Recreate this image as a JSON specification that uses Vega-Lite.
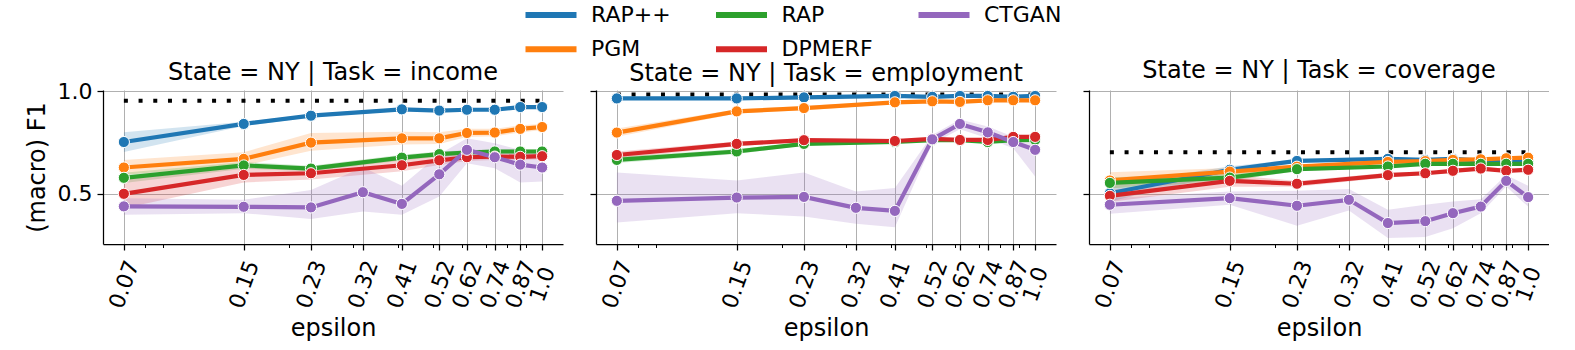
{
  "$schema": "https://vega.github.io/schema/vega-lite/v6.json",
  "padding": {"left": 25, "top": 2, "right": 0, "bottom": 0},
  "background": "white",
  "config": {
    "font": "DejaVu Sans",
    "view": {"stroke": null},
    "axis": {"domainColor": "black", "domainWidth": 1.25, "tickColor": "black", "tickWidth": 1.25, "tickSize": 6, "labelFontSize": 22, "titleFontSize": 24, "labelColor": "black", "titleColor": "black", "titleFontWeight": "normal", "gridColor": "#b0b0b0", "gridWidth": 1, "labelFont": "DejaVu Sans", "titleFont": "DejaVu Sans"},
    "legend": {"orient": "none", "legendX": 435, "legendY": -88, "columns": 3, "gridAlign": "each", "symbolType": "M-2.55,0H2.55", "symbolStrokeWidth": 6, "symbolSize": 400, "symbolOpacity": 1, "labelFontSize": 22, "labelFont": "DejaVu Sans", "labelColor": "black", "labelOffset": 27, "columnPadding": 32.5, "rowPadding": 9.2},
    "title": {"fontSize": 24, "fontWeight": "normal", "color": "black", "font": "DejaVu Sans", "baseline": "alphabetic", "frame": "group"}
  },
  "datasets": {
    "d": [
      {"t":"income","m":"RAP++","e":0.07,"v":0.752,"lo":0.704,"hi":0.799},
      {"t":"income","m":"RAP++","e":0.15,"v":0.840,"lo":0.830,"hi":0.850},
      {"t":"income","m":"RAP++","e":0.23,"v":0.880,"lo":0.872,"hi":0.888},
      {"t":"income","m":"RAP++","e":0.41,"v":0.911,"lo":0.903,"hi":0.919},
      {"t":"income","m":"RAP++","e":0.52,"v":0.905,"lo":0.898,"hi":0.912},
      {"t":"income","m":"RAP++","e":0.62,"v":0.909,"lo":0.902,"hi":0.916},
      {"t":"income","m":"RAP++","e":0.74,"v":0.909,"lo":0.903,"hi":0.915},
      {"t":"income","m":"RAP++","e":0.87,"v":0.922,"lo":0.915,"hi":0.929},
      {"t":"income","m":"RAP++","e":1.0,"v":0.922,"lo":0.915,"hi":0.929},
      {"t":"income","m":"PGM","e":0.07,"v":0.628,"lo":0.593,"hi":0.665},
      {"t":"income","m":"PGM","e":0.15,"v":0.670,"lo":0.638,"hi":0.702},
      {"t":"income","m":"PGM","e":0.23,"v":0.749,"lo":0.710,"hi":0.796},
      {"t":"income","m":"PGM","e":0.41,"v":0.770,"lo":0.740,"hi":0.802},
      {"t":"income","m":"PGM","e":0.52,"v":0.770,"lo":0.742,"hi":0.800},
      {"t":"income","m":"PGM","e":0.62,"v":0.796,"lo":0.776,"hi":0.816},
      {"t":"income","m":"PGM","e":0.74,"v":0.798,"lo":0.780,"hi":0.816},
      {"t":"income","m":"PGM","e":0.87,"v":0.816,"lo":0.798,"hi":0.834},
      {"t":"income","m":"PGM","e":1.0,"v":0.825,"lo":0.810,"hi":0.840},
      {"t":"income","m":"RAP","e":0.07,"v":0.578,"lo":0.553,"hi":0.603},
      {"t":"income","m":"RAP","e":0.15,"v":0.638,"lo":0.622,"hi":0.655},
      {"t":"income","m":"RAP","e":0.23,"v":0.623,"lo":0.610,"hi":0.636},
      {"t":"income","m":"RAP","e":0.41,"v":0.676,"lo":0.662,"hi":0.690},
      {"t":"income","m":"RAP","e":0.52,"v":0.693,"lo":0.680,"hi":0.706},
      {"t":"income","m":"RAP","e":0.62,"v":0.701,"lo":0.690,"hi":0.712},
      {"t":"income","m":"RAP","e":0.74,"v":0.706,"lo":0.695,"hi":0.717},
      {"t":"income","m":"RAP","e":0.87,"v":0.706,"lo":0.695,"hi":0.717},
      {"t":"income","m":"RAP","e":1.0,"v":0.706,"lo":0.695,"hi":0.717},
      {"t":"income","m":"DPMERF","e":0.07,"v":0.500,"lo":0.430,"hi":0.570},
      {"t":"income","m":"DPMERF","e":0.15,"v":0.592,"lo":0.555,"hi":0.629},
      {"t":"income","m":"DPMERF","e":0.23,"v":0.600,"lo":0.570,"hi":0.630},
      {"t":"income","m":"DPMERF","e":0.41,"v":0.639,"lo":0.610,"hi":0.668},
      {"t":"income","m":"DPMERF","e":0.52,"v":0.663,"lo":0.640,"hi":0.686},
      {"t":"income","m":"DPMERF","e":0.62,"v":0.678,"lo":0.660,"hi":0.696},
      {"t":"income","m":"DPMERF","e":0.74,"v":0.681,"lo":0.665,"hi":0.697},
      {"t":"income","m":"DPMERF","e":0.87,"v":0.680,"lo":0.664,"hi":0.696},
      {"t":"income","m":"DPMERF","e":1.0,"v":0.683,"lo":0.668,"hi":0.698},
      {"t":"income","m":"CTGAN","e":0.07,"v":0.439,"lo":0.398,"hi":0.479},
      {"t":"income","m":"CTGAN","e":0.15,"v":0.437,"lo":0.406,"hi":0.471},
      {"t":"income","m":"CTGAN","e":0.23,"v":0.434,"lo":0.377,"hi":0.519},
      {"t":"income","m":"CTGAN","e":0.32,"v":0.508,"lo":0.414,"hi":0.629},
      {"t":"income","m":"CTGAN","e":0.41,"v":0.451,"lo":0.398,"hi":0.539},
      {"t":"income","m":"CTGAN","e":0.52,"v":0.595,"lo":0.487,"hi":0.693},
      {"t":"income","m":"CTGAN","e":0.62,"v":0.714,"lo":0.649,"hi":0.770},
      {"t":"income","m":"CTGAN","e":0.74,"v":0.678,"lo":0.625,"hi":0.746},
      {"t":"income","m":"CTGAN","e":0.87,"v":0.642,"lo":0.555,"hi":0.714},
      {"t":"income","m":"CTGAN","e":1.0,"v":0.628,"lo":0.560,"hi":0.706},

      {"t":"employment","m":"RAP++","e":0.07,"v":0.964,"lo":0.959,"hi":0.969},
      {"t":"employment","m":"RAP++","e":0.15,"v":0.964,"lo":0.959,"hi":0.969},
      {"t":"employment","m":"RAP++","e":0.23,"v":0.969,"lo":0.964,"hi":0.974},
      {"t":"employment","m":"RAP++","e":0.41,"v":0.976,"lo":0.971,"hi":0.981},
      {"t":"employment","m":"RAP++","e":0.52,"v":0.972,"lo":0.967,"hi":0.977},
      {"t":"employment","m":"RAP++","e":0.62,"v":0.976,"lo":0.971,"hi":0.981},
      {"t":"employment","m":"RAP++","e":0.74,"v":0.976,"lo":0.971,"hi":0.981},
      {"t":"employment","m":"RAP++","e":0.87,"v":0.972,"lo":0.967,"hi":0.977},
      {"t":"employment","m":"RAP++","e":1.0,"v":0.976,"lo":0.971,"hi":0.981},
      {"t":"employment","m":"PGM","e":0.07,"v":0.798,"lo":0.778,"hi":0.818},
      {"t":"employment","m":"PGM","e":0.15,"v":0.901,"lo":0.891,"hi":0.911},
      {"t":"employment","m":"PGM","e":0.23,"v":0.917,"lo":0.907,"hi":0.927},
      {"t":"employment","m":"PGM","e":0.41,"v":0.945,"lo":0.937,"hi":0.953},
      {"t":"employment","m":"PGM","e":0.52,"v":0.950,"lo":0.943,"hi":0.957},
      {"t":"employment","m":"PGM","e":0.62,"v":0.947,"lo":0.940,"hi":0.954},
      {"t":"employment","m":"PGM","e":0.74,"v":0.955,"lo":0.949,"hi":0.961},
      {"t":"employment","m":"PGM","e":0.87,"v":0.955,"lo":0.949,"hi":0.961},
      {"t":"employment","m":"PGM","e":1.0,"v":0.955,"lo":0.949,"hi":0.961},
      {"t":"employment","m":"RAP","e":0.07,"v":0.665,"lo":0.650,"hi":0.680},
      {"t":"employment","m":"RAP","e":0.15,"v":0.706,"lo":0.694,"hi":0.718},
      {"t":"employment","m":"RAP","e":0.23,"v":0.743,"lo":0.735,"hi":0.751},
      {"t":"employment","m":"RAP","e":0.41,"v":0.752,"lo":0.746,"hi":0.758},
      {"t":"employment","m":"RAP","e":0.52,"v":0.761,"lo":0.755,"hi":0.767},
      {"t":"employment","m":"RAP","e":0.62,"v":0.761,"lo":0.755,"hi":0.767},
      {"t":"employment","m":"RAP","e":0.74,"v":0.752,"lo":0.746,"hi":0.758},
      {"t":"employment","m":"RAP","e":0.87,"v":0.761,"lo":0.755,"hi":0.767},
      {"t":"employment","m":"RAP","e":1.0,"v":0.762,"lo":0.756,"hi":0.768},
      {"t":"employment","m":"DPMERF","e":0.07,"v":0.689,"lo":0.672,"hi":0.706},
      {"t":"employment","m":"DPMERF","e":0.15,"v":0.743,"lo":0.731,"hi":0.755},
      {"t":"employment","m":"DPMERF","e":0.23,"v":0.761,"lo":0.752,"hi":0.770},
      {"t":"employment","m":"DPMERF","e":0.41,"v":0.757,"lo":0.750,"hi":0.764},
      {"t":"employment","m":"DPMERF","e":0.52,"v":0.767,"lo":0.760,"hi":0.774},
      {"t":"employment","m":"DPMERF","e":0.62,"v":0.762,"lo":0.755,"hi":0.769},
      {"t":"employment","m":"DPMERF","e":0.74,"v":0.762,"lo":0.755,"hi":0.769},
      {"t":"employment","m":"DPMERF","e":0.87,"v":0.777,"lo":0.770,"hi":0.784},
      {"t":"employment","m":"DPMERF","e":1.0,"v":0.777,"lo":0.770,"hi":0.784},
      {"t":"employment","m":"CTGAN","e":0.07,"v":0.466,"lo":0.361,"hi":0.604},
      {"t":"employment","m":"CTGAN","e":0.15,"v":0.482,"lo":0.406,"hi":0.565},
      {"t":"employment","m":"CTGAN","e":0.23,"v":0.485,"lo":0.390,"hi":0.604},
      {"t":"employment","m":"CTGAN","e":0.32,"v":0.432,"lo":0.354,"hi":0.511},
      {"t":"employment","m":"CTGAN","e":0.41,"v":0.417,"lo":0.338,"hi":0.528},
      {"t":"employment","m":"CTGAN","e":0.52,"v":0.765,"lo":0.743,"hi":0.786},
      {"t":"employment","m":"CTGAN","e":0.62,"v":0.840,"lo":0.814,"hi":0.862},
      {"t":"employment","m":"CTGAN","e":0.74,"v":0.799,"lo":0.770,"hi":0.827},
      {"t":"employment","m":"CTGAN","e":0.87,"v":0.752,"lo":0.722,"hi":0.778},
      {"t":"employment","m":"CTGAN","e":1.0,"v":0.714,"lo":0.584,"hi":0.762},

      {"t":"coverage","m":"RAP++","e":0.07,"v":0.503,"lo":0.463,"hi":0.543},
      {"t":"coverage","m":"RAP++","e":0.15,"v":0.617,"lo":0.600,"hi":0.634},
      {"t":"coverage","m":"RAP++","e":0.23,"v":0.660,"lo":0.652,"hi":0.668},
      {"t":"coverage","m":"RAP++","e":0.41,"v":0.670,"lo":0.663,"hi":0.677},
      {"t":"coverage","m":"RAP++","e":0.52,"v":0.665,"lo":0.658,"hi":0.672},
      {"t":"coverage","m":"RAP++","e":0.62,"v":0.670,"lo":0.663,"hi":0.677},
      {"t":"coverage","m":"RAP++","e":0.74,"v":0.662,"lo":0.655,"hi":0.669},
      {"t":"coverage","m":"RAP++","e":0.87,"v":0.660,"lo":0.653,"hi":0.667},
      {"t":"coverage","m":"RAP++","e":1.0,"v":0.660,"lo":0.653,"hi":0.667},
      {"t":"coverage","m":"PGM","e":0.07,"v":0.565,"lo":0.525,"hi":0.605},
      {"t":"coverage","m":"PGM","e":0.15,"v":0.608,"lo":0.590,"hi":0.626},
      {"t":"coverage","m":"PGM","e":0.23,"v":0.632,"lo":0.622,"hi":0.642},
      {"t":"coverage","m":"PGM","e":0.41,"v":0.655,"lo":0.648,"hi":0.662},
      {"t":"coverage","m":"PGM","e":0.52,"v":0.659,"lo":0.652,"hi":0.666},
      {"t":"coverage","m":"PGM","e":0.62,"v":0.665,"lo":0.658,"hi":0.672},
      {"t":"coverage","m":"PGM","e":0.74,"v":0.668,"lo":0.661,"hi":0.675},
      {"t":"coverage","m":"PGM","e":0.87,"v":0.673,"lo":0.666,"hi":0.680},
      {"t":"coverage","m":"PGM","e":1.0,"v":0.676,"lo":0.669,"hi":0.683},
      {"t":"coverage","m":"RAP","e":0.07,"v":0.553,"lo":0.525,"hi":0.581},
      {"t":"coverage","m":"RAP","e":0.15,"v":0.579,"lo":0.563,"hi":0.595},
      {"t":"coverage","m":"RAP","e":0.23,"v":0.620,"lo":0.610,"hi":0.630},
      {"t":"coverage","m":"RAP","e":0.41,"v":0.633,"lo":0.627,"hi":0.639},
      {"t":"coverage","m":"RAP","e":0.52,"v":0.646,"lo":0.640,"hi":0.652},
      {"t":"coverage","m":"RAP","e":0.62,"v":0.646,"lo":0.640,"hi":0.652},
      {"t":"coverage","m":"RAP","e":0.74,"v":0.646,"lo":0.640,"hi":0.652},
      {"t":"coverage","m":"RAP","e":0.87,"v":0.646,"lo":0.640,"hi":0.652},
      {"t":"coverage","m":"RAP","e":1.0,"v":0.646,"lo":0.640,"hi":0.652},
      {"t":"coverage","m":"DPMERF","e":0.07,"v":0.490,"lo":0.460,"hi":0.520},
      {"t":"coverage","m":"DPMERF","e":0.15,"v":0.563,"lo":0.535,"hi":0.591},
      {"t":"coverage","m":"DPMERF","e":0.23,"v":0.549,"lo":0.535,"hi":0.563},
      {"t":"coverage","m":"DPMERF","e":0.41,"v":0.591,"lo":0.580,"hi":0.602},
      {"t":"coverage","m":"DPMERF","e":0.52,"v":0.600,"lo":0.591,"hi":0.609},
      {"t":"coverage","m":"DPMERF","e":0.62,"v":0.612,"lo":0.604,"hi":0.620},
      {"t":"coverage","m":"DPMERF","e":0.74,"v":0.623,"lo":0.615,"hi":0.631},
      {"t":"coverage","m":"DPMERF","e":0.87,"v":0.612,"lo":0.604,"hi":0.620},
      {"t":"coverage","m":"DPMERF","e":1.0,"v":0.617,"lo":0.609,"hi":0.625},
      {"t":"coverage","m":"CTGAN","e":0.07,"v":0.447,"lo":0.403,"hi":0.479},
      {"t":"coverage","m":"CTGAN","e":0.15,"v":0.479,"lo":0.447,"hi":0.511},
      {"t":"coverage","m":"CTGAN","e":0.23,"v":0.442,"lo":0.345,"hi":0.515},
      {"t":"coverage","m":"CTGAN","e":0.32,"v":0.471,"lo":0.419,"hi":0.523},
      {"t":"coverage","m":"CTGAN","e":0.41,"v":0.358,"lo":0.285,"hi":0.422},
      {"t":"coverage","m":"CTGAN","e":0.52,"v":0.367,"lo":0.290,"hi":0.447},
      {"t":"coverage","m":"CTGAN","e":0.62,"v":0.406,"lo":0.333,"hi":0.463},
      {"t":"coverage","m":"CTGAN","e":0.74,"v":0.438,"lo":0.406,"hi":0.474},
      {"t":"coverage","m":"CTGAN","e":0.87,"v":0.563,"lo":0.536,"hi":0.592},
      {"t":"coverage","m":"CTGAN","e":1.0,"v":0.484,"lo":0.438,"hi":0.539}
    ],
    "b": [
      {"t":"income","e1":0.07,"e2":1.0,"v":0.953},
      {"t":"employment","e1":0.07,"e2":1.0,"v":0.983},
      {"t":"coverage","e1":0.07,"e2":1.0,"v":0.702}
    ]
  },
  "spacing": 26,
  "resolve": {"scale": {"color": "shared"}},
  "hconcat": [
    {
      "width": 460, "height": 154,
      "title": {"text": "State = NY | Task = income", "offset": -5},
      "resolve": {"axis": {"x": "independent"}},
      "layer": [
        {"data": {"name": "d"}, "transform": [{"filter": "datum.t == 'income'"}],
         "mark": {"type": "area", "opacity": 0.2},
         "encoding": {
           "x": {"field": "e", "type": "quantitative", "scale": {"type": "log", "domain": [0.0613, 1.142], "nice": false}, "axis": null},
           "y": {"field": "lo", "type": "quantitative", "scale": {"domain": [0.256, 1.005], "nice": false, "zero": false}, "axis": {"values": [0.5, 1.0], "format": ".1f", "title": "(macro) F1", "labelPadding": 5, "titlePadding": 8, "grid": true}},
           "y2": {"field": "hi"},
           "color": {"field": "m", "type": "nominal", "scale": {"domain": ["RAP++", "PGM", "RAP", "DPMERF", "CTGAN"], "range": ["#1f77b4", "#ff7f0e", "#2ca02c", "#d62728", "#9467bd"]}, "legend": {"title": null}}
         }},
        {"data": {"name": "b"}, "transform": [{"filter": "datum.t == 'income'"}],
         "mark": {"type": "rule", "color": "black", "strokeWidth": 4, "strokeDash": [4, 10.7], "strokeCap": "butt"},
         "encoding": {
           "x": {"field": "e1", "type": "quantitative", "axis": {"orient": "bottom", "values": [0.08, 0.09, 0.2, 0.3, 0.4, 0.5, 0.6, 0.7, 0.8, 0.9], "labels": false, "grid": false, "domain": false, "tickSize": 3.5, "tickWidth": 1, "title": null}},
           "x2": {"field": "e2"},
           "y": {"field": "v", "type": "quantitative"}
         }},
        {"data": {"name": "d"}, "transform": [{"filter": "datum.t == 'income'"}],
         "mark": {"type": "line", "strokeWidth": 4.2},
         "encoding": {
           "x": {"field": "e", "type": "quantitative", "axis": null},
           "y": {"field": "v", "type": "quantitative"},
           "color": {"field": "m", "type": "nominal"}
         }},
        {"data": {"name": "d"}, "transform": [{"filter": "datum.t == 'income'"}],
         "mark": {"type": "point", "shape": "circle", "filled": true, "size": 125, "stroke": "white", "strokeWidth": 1, "opacity": 1},
         "encoding": {
           "x": {"field": "e", "type": "quantitative", "axis": {"orient": "bottom", "values": [0.07, 0.15, 0.23, 0.32, 0.41, 0.52, 0.62, 0.74, 0.87, 1.0], "labelExpr": "datum.value == 1 ? '1.0' : format(datum.value, '.2f')", "labelAngle": -70, "labelAlign": "center", "labelBaseline": "middle", "labelPadding": 34, "labelOverlap": false, "labelFlush": false, "labelBound": false, "grid": true, "title": "epsilon", "titlePadding": 6}},
           "y": {"field": "v", "type": "quantitative"},
           "fill": {"field": "m", "type": "nominal", "scale": {"domain": ["RAP++", "PGM", "RAP", "DPMERF", "CTGAN"], "range": ["#1f77b4", "#ff7f0e", "#2ca02c", "#d62728", "#9467bd"]}, "legend": null}
         }}
      ]
    },
    {
      "width": 460, "height": 154,
      "title": {"text": "State = NY | Task = employment", "offset": 1.4},
      "resolve": {"axis": {"x": "independent"}},
      "layer": [
        {"data": {"name": "d"}, "transform": [{"filter": "datum.t == 'employment'"}],
         "mark": {"type": "area", "opacity": 0.2},
         "encoding": {
           "x": {"field": "e", "type": "quantitative", "scale": {"type": "log", "domain": [0.0613, 1.142], "nice": false}, "axis": null},
           "y": {"field": "lo", "type": "quantitative", "scale": {"domain": [0.256, 1.005], "nice": false, "zero": false}, "axis": {"values": [0.5, 1.0], "labels": false, "title": null, "grid": true}},
           "y2": {"field": "hi"},
           "color": {"field": "m", "type": "nominal", "legend": {"title": null}}
         }},
        {"data": {"name": "b"}, "transform": [{"filter": "datum.t == 'employment'"}],
         "mark": {"type": "rule", "color": "black", "strokeWidth": 4, "strokeDash": [4, 10.7], "strokeCap": "butt"},
         "encoding": {
           "x": {"field": "e1", "type": "quantitative", "axis": {"orient": "bottom", "values": [0.08, 0.09, 0.2, 0.3, 0.4, 0.5, 0.6, 0.7, 0.8, 0.9], "labels": false, "grid": false, "domain": false, "tickSize": 3.5, "tickWidth": 1, "title": null}},
           "x2": {"field": "e2"},
           "y": {"field": "v", "type": "quantitative"}
         }},
        {"data": {"name": "d"}, "transform": [{"filter": "datum.t == 'employment'"}],
         "mark": {"type": "line", "strokeWidth": 4.2},
         "encoding": {
           "x": {"field": "e", "type": "quantitative", "axis": null},
           "y": {"field": "v", "type": "quantitative"},
           "color": {"field": "m", "type": "nominal"}
         }},
        {"data": {"name": "d"}, "transform": [{"filter": "datum.t == 'employment'"}],
         "mark": {"type": "point", "shape": "circle", "filled": true, "size": 125, "stroke": "white", "strokeWidth": 1, "opacity": 1},
         "encoding": {
           "x": {"field": "e", "type": "quantitative", "axis": {"orient": "bottom", "values": [0.07, 0.15, 0.23, 0.32, 0.41, 0.52, 0.62, 0.74, 0.87, 1.0], "labelExpr": "datum.value == 1 ? '1.0' : format(datum.value, '.2f')", "labelAngle": -70, "labelAlign": "center", "labelBaseline": "middle", "labelPadding": 34, "labelOverlap": false, "labelFlush": false, "labelBound": false, "grid": true, "title": "epsilon", "titlePadding": 6}},
           "y": {"field": "v", "type": "quantitative"},
           "fill": {"field": "m", "type": "nominal", "scale": {"domain": ["RAP++", "PGM", "RAP", "DPMERF", "CTGAN"], "range": ["#1f77b4", "#ff7f0e", "#2ca02c", "#d62728", "#9467bd"]}, "legend": null}
         }}
      ]
    },
    {
      "width": 460, "height": 154,
      "title": {"text": "State = NY | Task = coverage", "offset": 7.4},
      "resolve": {"axis": {"x": "independent"}},
      "layer": [
        {"data": {"name": "d"}, "transform": [{"filter": "datum.t == 'coverage'"}],
         "mark": {"type": "area", "opacity": 0.2},
         "encoding": {
           "x": {"field": "e", "type": "quantitative", "scale": {"type": "log", "domain": [0.0613, 1.142], "nice": false}, "axis": null},
           "y": {"field": "lo", "type": "quantitative", "scale": {"domain": [0.256, 1.005], "nice": false, "zero": false}, "axis": {"values": [0.5, 1.0], "labels": false, "title": null, "grid": true}},
           "y2": {"field": "hi"},
           "color": {"field": "m", "type": "nominal", "legend": {"title": null}}
         }},
        {"data": {"name": "b"}, "transform": [{"filter": "datum.t == 'coverage'"}],
         "mark": {"type": "rule", "color": "black", "strokeWidth": 4, "strokeDash": [4, 10.7], "strokeCap": "butt"},
         "encoding": {
           "x": {"field": "e1", "type": "quantitative", "axis": {"orient": "bottom", "values": [0.08, 0.09, 0.2, 0.3, 0.4, 0.5, 0.6, 0.7, 0.8, 0.9], "labels": false, "grid": false, "domain": false, "tickSize": 3.5, "tickWidth": 1, "title": null}},
           "x2": {"field": "e2"},
           "y": {"field": "v", "type": "quantitative"}
         }},
        {"data": {"name": "d"}, "transform": [{"filter": "datum.t == 'coverage'"}],
         "mark": {"type": "line", "strokeWidth": 4.2},
         "encoding": {
           "x": {"field": "e", "type": "quantitative", "axis": null},
           "y": {"field": "v", "type": "quantitative"},
           "color": {"field": "m", "type": "nominal"}
         }},
        {"data": {"name": "d"}, "transform": [{"filter": "datum.t == 'coverage'"}],
         "mark": {"type": "point", "shape": "circle", "filled": true, "size": 125, "stroke": "white", "strokeWidth": 1, "opacity": 1},
         "encoding": {
           "x": {"field": "e", "type": "quantitative", "axis": {"orient": "bottom", "values": [0.07, 0.15, 0.23, 0.32, 0.41, 0.52, 0.62, 0.74, 0.87, 1.0], "labelExpr": "datum.value == 1 ? '1.0' : format(datum.value, '.2f')", "labelAngle": -70, "labelAlign": "center", "labelBaseline": "middle", "labelPadding": 34, "labelOverlap": false, "labelFlush": false, "labelBound": false, "grid": true, "title": "epsilon", "titlePadding": 6}},
           "y": {"field": "v", "type": "quantitative"},
           "fill": {"field": "m", "type": "nominal", "scale": {"domain": ["RAP++", "PGM", "RAP", "DPMERF", "CTGAN"], "range": ["#1f77b4", "#ff7f0e", "#2ca02c", "#d62728", "#9467bd"]}, "legend": null}
         }}
      ]
    }
  ]
}
